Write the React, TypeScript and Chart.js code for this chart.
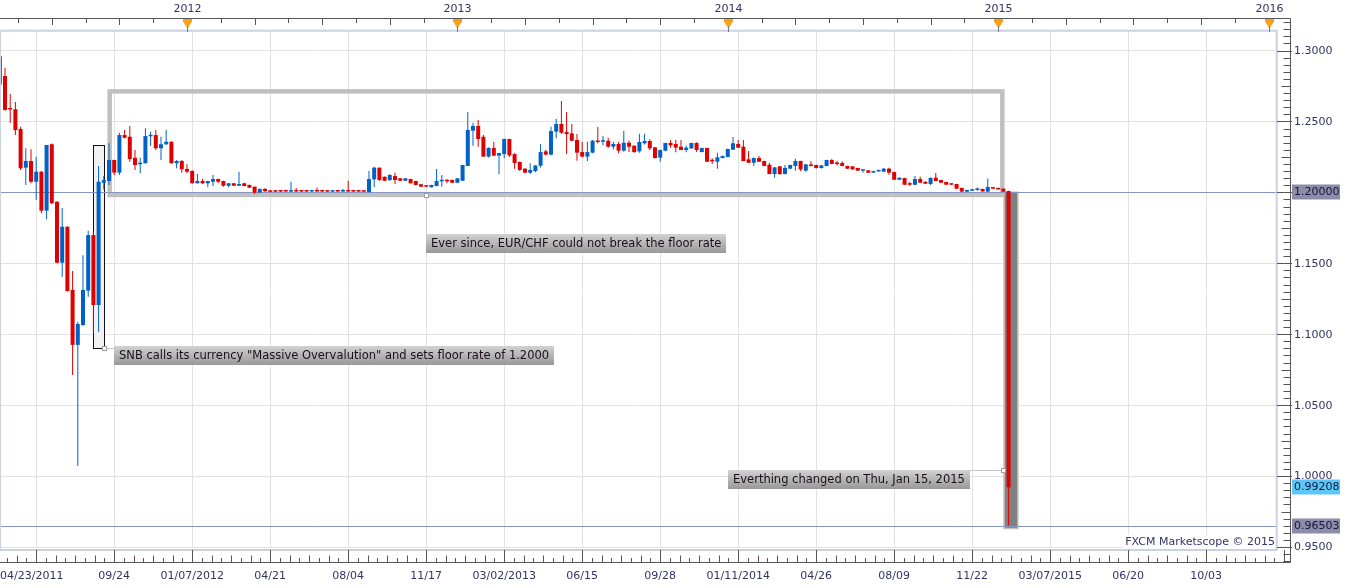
import React, { useEffect, useRef } from "react";
import { Chart, registerables } from "chart.js";

Chart.register(...registerables);

// ---------- DATA (weekly EUR/CHF candles, week index 0 = 04/23/2011) ----------
const OPEN = [
  1.2960, 1.2820, 1.2590, 1.2586, 1.2447, 1.2174, 1.2221, 1.2075, 1.2146, 1.1871,
  1.2339, 1.1934, 1.1504, 1.1758, 1.1312, 1.0925, 1.1065, 1.1307, 1.1699, 1.1206,
  1.2068, 1.2080, 1.2228, 1.2139, 1.2404, 1.2392, 1.2244, 1.2198, 1.2205, 1.2395,
  1.2404, 1.2311, 1.2339, 1.2357, 1.2205, 1.2221, 1.2165, 1.2151, 1.2064, 1.2080,
  1.2064, 1.2075, 1.2094, 1.2080, 1.2047, 1.2064, 1.2047, 1.2064, 1.2052, 1.2040,
  1.2000, 1.2024, 1.2012, 1.2010, 1.2010, 1.2010, 1.2005, 1.2011, 1.2011, 1.2011,
  1.2006, 1.2012, 1.2011, 1.2011, 1.2005, 1.2010, 1.2006, 1.2014, 1.2012, 1.2011,
  1.2010, 1.2001, 1.2092, 1.2174, 1.2110, 1.2087, 1.2115, 1.2099, 1.2082, 1.2094,
  1.2080, 1.2057, 1.2047, 1.2036, 1.2045, 1.2078, 1.2082, 1.2087, 1.2068, 1.2082,
  1.2186, 1.2435, 1.2468, 1.2392, 1.2252, 1.2313, 1.2259, 1.2270, 1.2376, 1.2270,
  1.2214, 1.2167, 1.2139, 1.2150, 1.2188, 1.2289, 1.2266, 1.2428, 1.2482, 1.2425,
  1.2416, 1.2369, 1.2284, 1.2252, 1.2280, 1.2364, 1.2357, 1.2364, 1.2322, 1.2341,
  1.2294, 1.2350, 1.2329, 1.2289, 1.2346, 1.2362, 1.2317, 1.2245, 1.2294, 1.2348,
  1.2341, 1.2322, 1.2299, 1.2310, 1.2348, 1.2284, 1.2313, 1.2221, 1.2216, 1.2242,
  1.2249, 1.2301, 1.2341, 1.2322, 1.2233, 1.2209, 1.2242, 1.2221, 1.2195, 1.2129,
  1.2183, 1.2129, 1.2167, 1.2186, 1.2221, 1.2153, 1.2190, 1.2193, 1.2172, 1.2186,
  1.2228, 1.2205, 1.2207, 1.2186, 1.2183, 1.2172, 1.2153, 1.2155, 1.2139, 1.2148,
  1.2146, 1.2167, 1.2143, 1.2089, 1.2101, 1.2057, 1.2054, 1.2094, 1.2075, 1.2059,
  1.2104, 1.2087, 1.2073, 1.2061, 1.2059, 1.2031, 1.2005, 1.2012, 1.2017, 1.2024,
  1.2005, 1.2035, 1.2031, 1.2026, 1.2010,
];
const HIGH = [
  1.2970, 1.2877, 1.2693, 1.2637, 1.2463, 1.2311, 1.2304, 1.2251, 1.2150, 1.2334,
  1.2344, 1.1936, 1.1890, 1.1760, 1.1446, 1.1088, 1.1556, 1.1730, 1.1723, 1.2186,
  1.2115, 1.2346, 1.2230, 1.2420, 1.2440, 1.2468, 1.2299, 1.2244, 1.2452, 1.2427,
  1.2440, 1.2392, 1.2440, 1.2360, 1.2228, 1.2228, 1.2198, 1.2155, 1.2130, 1.2096,
  1.2082, 1.2122, 1.2096, 1.2082, 1.2066, 1.2066, 1.2146, 1.2068, 1.2055, 1.2042,
  1.2028, 1.2030, 1.2016, 1.2014, 1.2012, 1.2012, 1.2075, 1.2030, 1.2014, 1.2013,
  1.2014, 1.2035, 1.2013, 1.2013, 1.2013, 1.2012, 1.2024, 1.2082, 1.2014, 1.2013,
  1.2012, 1.2151, 1.2180, 1.2176, 1.2112, 1.2130, 1.2138, 1.2101, 1.2101, 1.2096,
  1.2082, 1.2059, 1.2049, 1.2054, 1.2165, 1.2122, 1.2094, 1.2090, 1.2099, 1.2193,
  1.2566, 1.2491, 1.2510, 1.2404, 1.2318, 1.2355, 1.2280, 1.2380, 1.2378, 1.2275,
  1.2218, 1.2170, 1.2205, 1.2192, 1.2341, 1.2301, 1.2463, 1.2517, 1.2644, 1.2566,
  1.2482, 1.2411, 1.2357, 1.2357, 1.2369, 1.2461, 1.2397, 1.2385, 1.2357, 1.2355,
  1.2432, 1.2364, 1.2331, 1.2414, 1.2414, 1.2374, 1.2320, 1.2301, 1.2350, 1.2369,
  1.2369, 1.2369, 1.2331, 1.2350, 1.2353, 1.2315, 1.2315, 1.2240, 1.2280, 1.2259,
  1.2308, 1.2390, 1.2369, 1.2369, 1.2292, 1.2245, 1.2256, 1.2223, 1.2209, 1.2179,
  1.2186, 1.2193, 1.2195, 1.2237, 1.2223, 1.2200, 1.2219, 1.2195, 1.2193, 1.2230,
  1.2235, 1.2223, 1.2219, 1.2188, 1.2186, 1.2174, 1.2158, 1.2158, 1.2152, 1.2152,
  1.2172, 1.2174, 1.2145, 1.2106, 1.2103, 1.2075, 1.2115, 1.2110, 1.2077, 1.2106,
  1.2136, 1.2089, 1.2075, 1.2063, 1.2061, 1.2033, 1.2019, 1.2023, 1.2035, 1.2026,
  1.2097, 1.2037, 1.2033, 1.2028, 1.2012,
];
const LOW = [
  1.2740, 1.2575, 1.2491, 1.2404, 1.2157, 1.2052, 1.2064, 1.1946, 1.1852, 1.1810,
  1.1916, 1.1500, 1.1406, 1.1300, 1.0713, 1.0071, 1.1060, 1.1265, 1.1006, 1.1018,
  1.2021, 1.2052, 1.2122, 1.2122, 1.2381, 1.2216, 1.2158, 1.2134, 1.2205, 1.2327,
  1.2299, 1.2228, 1.2334, 1.2203, 1.2170, 1.2139, 1.2134, 1.2062, 1.2062, 1.2059,
  1.2036, 1.2045, 1.2064, 1.2040, 1.2036, 1.2045, 1.2045, 1.2043, 1.2031, 1.1988,
  1.1996, 1.2003, 1.2000, 1.2002, 1.2003, 1.2004, 1.2002, 1.2003, 1.2003, 1.2003,
  1.2003, 1.2004, 1.2003, 1.2002, 1.2003, 1.2003, 1.2003, 1.2004, 1.2003, 1.2002,
  1.2003, 1.2000, 1.2036, 1.2080, 1.2080, 1.2080, 1.2059, 1.2080, 1.2080, 1.2062,
  1.2050, 1.2038, 1.2038, 1.2034, 1.2043, 1.2040, 1.2064, 1.2066, 1.2066, 1.2080,
  1.2186, 1.2329, 1.2322, 1.2252, 1.2245, 1.2255, 1.2127, 1.2240, 1.2250, 1.2167,
  1.2150, 1.2135, 1.2130, 1.2142, 1.2176, 1.2262, 1.2259, 1.2381, 1.2411, 1.2270,
  1.2360, 1.2223, 1.2247, 1.2221, 1.2275, 1.2345, 1.2334, 1.2315, 1.2303, 1.2275,
  1.2287, 1.2284, 1.2280, 1.2280, 1.2338, 1.2298, 1.2238, 1.2216, 1.2290, 1.2315,
  1.2282, 1.2299, 1.2282, 1.2308, 1.2284, 1.2282, 1.2214, 1.2200, 1.2167, 1.2240,
  1.2247, 1.2299, 1.2313, 1.2219, 1.2207, 1.2186, 1.2214, 1.2184, 1.2127, 1.2103,
  1.2125, 1.2127, 1.2165, 1.2153, 1.2150, 1.2146, 1.2184, 1.2169, 1.2169, 1.2184,
  1.2198, 1.2190, 1.2184, 1.2165, 1.2160, 1.2150, 1.2139, 1.2137, 1.2137, 1.2146,
  1.2144, 1.2125, 1.2087, 1.2087, 1.2052, 1.2045, 1.2052, 1.2066, 1.2059, 1.2052,
  1.2078, 1.2066, 1.2052, 1.2052, 1.2024, 1.2003, 1.2003, 1.2010, 1.2012, 1.2005,
  1.2003, 1.2024, 1.2019, 1.2003, 0.96503,
];
const CLOSE = [
  1.2760, 1.2581, 1.2584, 1.2439, 1.2170, 1.2221, 1.2075, 1.2146, 1.1871, 1.2334,
  1.1923, 1.1504, 1.1758, 1.1305, 1.0925, 1.1072, 1.1312, 1.1699, 1.1206, 1.2075,
  1.2086, 1.2228, 1.2139, 1.2404, 1.2385, 1.2235, 1.2193, 1.2209, 1.2397, 1.2398,
  1.2311, 1.2339, 1.2357, 1.2205, 1.2221, 1.2163, 1.2146, 1.2064, 1.2080, 1.2064,
  1.2080, 1.2094, 1.2075, 1.2047, 1.2064, 1.2047, 1.2059, 1.2045, 1.2033, 1.1998,
  1.2024, 1.2008, 1.2004, 1.2005, 1.2006, 1.2006, 1.2010, 1.2006, 1.2006, 1.2006,
  1.2011, 1.2006, 1.2006, 1.2005, 1.2010, 1.2006, 1.2012, 1.2006, 1.2006, 1.2006,
  1.2005, 1.2094, 1.2174, 1.2087, 1.2082, 1.2122, 1.2087, 1.2082, 1.2099, 1.2064,
  1.2052, 1.2040, 1.2040, 1.2052, 1.2080, 1.2080, 1.2078, 1.2068, 1.2099, 1.2193,
  1.2440, 1.2468, 1.2376, 1.2252, 1.2313, 1.2259, 1.2277, 1.2376, 1.2261, 1.2207,
  1.2158, 1.2139, 1.2158, 1.2190, 1.2284, 1.2266, 1.2432, 1.2482, 1.2421, 1.2411,
  1.2364, 1.2280, 1.2252, 1.2284, 1.2364, 1.2355, 1.2364, 1.2322, 1.2341, 1.2294,
  1.2350, 1.2322, 1.2284, 1.2355, 1.2362, 1.2310, 1.2242, 1.2299, 1.2348, 1.2331,
  1.2315, 1.2299, 1.2315, 1.2348, 1.2299, 1.2313, 1.2216, 1.2219, 1.2247, 1.2256,
  1.2306, 1.2346, 1.2315, 1.2221, 1.2209, 1.2242, 1.2216, 1.2186, 1.2129, 1.2176,
  1.2129, 1.2172, 1.2193, 1.2221, 1.2162, 1.2197, 1.2186, 1.2172, 1.2190, 1.2228,
  1.2200, 1.2200, 1.2186, 1.2167, 1.2162, 1.2153, 1.2155, 1.2139, 1.2150, 1.2150,
  1.2167, 1.2139, 1.2089, 1.2103, 1.2054, 1.2054, 1.2094, 1.2068, 1.2061, 1.2101,
  1.2080, 1.2068, 1.2054, 1.2054, 1.2026, 1.2005, 1.2017, 1.2021, 1.2019, 1.2007,
  1.2038, 1.2026, 1.2021, 1.2005, 0.99208,
];

const GRID_WEEKS = [7, 22, 37, 52, 67, 82, 97, 112, 127, 142, 157, 172, 187, 202, 217, 232];
const BOTTOM_LABEL_WEEKS = [0, 22, 37, 52, 67, 82, 97, 112, 127, 142, 157, 172, 187, 202, 217, 232];
const BOTTOM_LABELS = [
  "04/23/2011", "09/24", "01/07/2012", "04/21", "08/04", "11/17", "03/02/2013", "06/15",
  "09/28", "01/11/2014", "04/26", "08/09", "11/22", "03/07/2015", "06/20", "10/03",
];
const YEAR_WEEKS = [36, 88, 140, 192, 244];
const YEAR_LABELS = ["2012", "2013", "2014", "2015", "2016"];
const Y_TICKS = [0.95, 1.0, 1.05, 1.1, 1.15, 1.2, 1.25, 1.3];
const FLOOR_RATE = 1.2;
const LAST_CLOSE = 0.99208;
const CRASH_LOW = 0.96503;

const NOTES = [
  { text: "SNB calls its currency \"Massive Overvalution\" and sets floor rate of 1.2000", week: 22.02, price: 1.0917, anchorWeek: 19.98, anchorPrice: 1.0905, link: "left" },
  { text: "Ever since, EUR/CHF could not break the floor rate", week: 81.96, price: 1.1706, anchorWeek: 81.96, anchorPrice: 1.1978, link: "up" },
  { text: "Everthing changed on Thu, Jan 15, 2015", week: 140.04, price: 1.00428, anchorWeek: 192.94, anchorPrice: 1.00428, link: "right" },
];
const RANGE_BOX = { from: 21.13, to: 192.8, top: 1.2712, bottom: 1.1982 };
const SNB_BOX = { from: 17.98, to: 19.98, top: 1.2334, bottom: 1.0905 };
const CRASH_BOX = { from: 192.98, to: 195.94, top: 1.2006, bottom: 0.96248 };

const X_MIN = 0.0385;
const X_MAX = 245.62;
const Y_MIN = 0.94789;
const Y_MAX = 1.31375;

const UP = "#0062c6";
const DOWN = "#e00000";
const AXIS_TEXT = "#333366";
const FONT_AXIS = '11px "DejaVu Sans"';
const FONT_NOTE = '11.5px "DejaVu Sans"';

const WEEKS = OPEN.map((_, i) => i);
const COLORS = WEEKS.map((i) => (CLOSE[i] >= OPEN[i] ? UP : DOWN));

function line(ctx: CanvasRenderingContext2D, x1: number, y1: number, x2: number, y2: number) {
  ctx.beginPath();
  ctx.moveTo(x1, y1);
  ctx.lineTo(x2, y2);
  ctx.stroke();
}

const decor = {
  id: "decor",
  beforeDatasetsDraw(chart: any) {
    const { ctx, chartArea: ca } = chart;
    const xs = chart.scales.x;
    const ys = chart.scales.y;
    const X = (v: number) => xs.getPixelForValue(v);
    const Y = (v: number) => ys.getPixelForValue(v);
    ctx.save();
    ctx.beginPath();
    ctx.rect(ca.left, ca.top, ca.right - ca.left, ca.bottom - ca.top);
    ctx.clip();

    // consolidation range box
    ctx.strokeStyle = "#c0c0c0";
    ctx.lineWidth = 4.5;
    ctx.strokeRect(X(RANGE_BOX.from), Y(RANGE_BOX.top), X(RANGE_BOX.to) - X(RANGE_BOX.from), Y(RANGE_BOX.bottom) - Y(RANGE_BOX.top));

    // SNB box
    const sx = Math.round(X(SNB_BOX.from)) + 0.5;
    const sx2 = Math.round(X(SNB_BOX.to)) + 0.5;
    const sy = Math.round(Y(SNB_BOX.top)) + 0.5;
    const sy2 = Math.round(Y(SNB_BOX.bottom)) + 0.5;
    ctx.fillStyle = "#f1f1f1";
    ctx.fillRect(sx, sy, sx2 - sx, sy2 - sy);
    ctx.strokeStyle = "#111";
    ctx.lineWidth = 1;
    ctx.strokeRect(sx, sy, sx2 - sx, sy2 - sy);

    // crash box
    const cx = X(CRASH_BOX.from);
    const cx2 = X(CRASH_BOX.to);
    const cy = Y(CRASH_BOX.top);
    const cy2 = Y(CRASH_BOX.bottom);
    ctx.fillStyle = "#c4c4c4";
    ctx.fillRect(cx, cy, cx2 - cx, cy2 - cy);
    ctx.fillStyle = "#808080";
    ctx.fillRect(cx + 1.5, cy + 1.5, cx2 - cx - 3, cy2 - cy - 3);

    // horizontal price lines
    ctx.strokeStyle = "#8794c4";
    ctx.lineWidth = 1;
    for (const p of [FLOOR_RATE, CRASH_LOW]) {
      const y = Math.round(Y(p)) + 0.5;
      line(ctx, ca.left, y, ca.right, y);
    }
    ctx.restore();
  },
  afterDraw(chart: any) {
    const { ctx, chartArea: ca } = chart;
    const xs = chart.scales.x;
    const ys = chart.scales.y;
    const X = (v: number) => xs.getPixelForValue(v);
    const Y = (v: number) => ys.getPixelForValue(v);
    const axTop = ca.top - 12.5;
    const axRight = ca.right + 13.5;
    const axBottom = ca.bottom + 12.5;
    ctx.save();

    // plot frame
    ctx.strokeStyle = "#c9d2de";
    ctx.lineWidth = 2;
    ctx.strokeRect(ca.left, ca.top - 0.3, ca.right - ca.left - 0.3, ca.bottom - ca.top + 0.3);

    // axes lines
    ctx.strokeStyle = "#555555";
    ctx.lineWidth = 1;
    line(ctx, 0, axTop, axRight, axTop);
    line(ctx, axRight, axTop, axRight, axBottom);
    line(ctx, 0, axBottom, axRight, axBottom);

    // top axis ticks (every 6.5 weeks, quarters longer)
    const step = 6.5;
    let m0 = Math.ceil((X_MIN - YEAR_WEEKS[0]) / step);
    for (let m = m0; ; m++) {
      const w = YEAR_WEEKS[0] + m * step;
      const x = Math.round(X(w)) + 0.5;
      if (x > axRight) break;
      const long = ((m % 2) + 2) % 2 === 0;
      line(ctx, x, axTop, x, axTop + (long ? 6.5 : 4.5));
    }
    // year markers
    ctx.font = FONT_AXIS;
    ctx.fillStyle = AXIS_TEXT;
    ctx.textAlign = "center";
    ctx.textBaseline = "middle";
    YEAR_WEEKS.forEach((w, i) => {
      const x = Math.round(X(w)) + 0.5;
      ctx.fillStyle = AXIS_TEXT;
      ctx.fillText(YEAR_LABELS[i], x, axTop - 9);
      ctx.fillStyle = "#f8a11c";
      ctx.beginPath();
      ctx.moveTo(x - 4.5, axTop + 0.5);
      ctx.lineTo(x + 4.5, axTop + 0.5);
      ctx.lineTo(x + 4.5, axTop + 3);
      ctx.lineTo(x + 0.7, axTop + 9);
      ctx.lineTo(x - 0.7, axTop + 9);
      ctx.lineTo(x - 4.5, axTop + 3);
      ctx.closePath();
      ctx.fill();
      ctx.strokeStyle = "#6d7a90";
      line(ctx, x, axTop + 8, x, ca.top + 1);
    });

    // right axis ticks
    ctx.strokeStyle = "#555555";
    for (let i = 186; i <= 266; i++) {
      const v = i * 0.005;
      const y = Math.round(Y(v)) + 0.5;
      if (y < axTop || y > axBottom) continue;
      if (i % 10 === 0) line(ctx, ca.right, y, axRight + 1.5, y);
      else if (i % 5 === 0) line(ctx, axRight - 9, y, axRight, y);
      else line(ctx, axRight - 7, y, axRight, y);
    }
    ctx.fillStyle = AXIS_TEXT;
    ctx.textAlign = "left";
    ctx.font = FONT_AXIS;
    Y_TICKS.forEach((v) => {
      ctx.fillText(v.toFixed(4), axRight + 3.5, Y(v) + 0.5);
    });

    // bottom axis ticks
    const sub = 15 / 8;
    for (let j = -8; ; j++) {
      const w = GRID_WEEKS[0] + j * sub;
      const x = Math.round(X(w)) + 0.5;
      if (x > axRight) break;
      if (x < 0) continue;
      const k = ((j % 8) + 8) % 8;
      if (k === 0) line(ctx, x, ca.bottom, x, axBottom);
      else line(ctx, x, axBottom - (k % 2 === 0 ? 7 : 4.5), x, axBottom);
    }
    ctx.fillStyle = AXIS_TEXT;
    BOTTOM_LABEL_WEEKS.forEach((w, i) => {
      const x = X(w);
      const t = BOTTOM_LABELS[i];
      const tw = ctx.measureText(t).width;
      if (x - tw / 2 < 0) {
        ctx.textAlign = "left";
        ctx.fillText(t, 0, axBottom + 14);
      } else {
        ctx.textAlign = "center";
        ctx.fillText(t, x, axBottom + 14);
      }
    });

    // notes
    ctx.font = FONT_NOTE;
    NOTES.forEach((n) => {
      const bx = Math.round(X(n.week));
      const by = Math.round(Y(n.price));
      const tw = ctx.measureText(n.text).width;
      const bw = Math.round(tw + 10);
      const bh = 19;
      const ax = Math.round(X(n.anchorWeek)) + 0.5;
      const ay = Math.round(Y(n.anchorPrice)) + 0.5;
      ctx.strokeStyle = "#c8c8c8";
      ctx.lineWidth = 1;
      if (n.link === "left") line(ctx, ax, ay, bx, ay);
      else if (n.link === "up") line(ctx, ax, ay, ax, by);
      else line(ctx, bx + bw, by + 0.5, ax, ay);
      const g = ctx.createLinearGradient(0, by, 0, by + bh);
      g.addColorStop(0, "#d2d2d2");
      g.addColorStop(1, "#989898");
      ctx.fillStyle = g;
      ctx.fillRect(bx, by, bw, bh);
      ctx.fillStyle = "#1a101a";
      ctx.textAlign = "left";
      ctx.textBaseline = "middle";
      ctx.fillText(n.text, bx + 5, by + bh / 2 + 0.5);
      ctx.fillStyle = "#ffffff";
      ctx.strokeStyle = "#a0a0a0";
      ctx.fillRect(ax - 2, ay - 2, 4, 4);
      ctx.strokeRect(ax - 2, ay - 2, 4, 4);
    });

    // price boxes on right axis
    ctx.font = FONT_AXIS;
    ctx.textAlign = "left";
    const boxes = [
      { v: FLOOR_RATE, bg: "#8c8ca8", fg: "#15153f" },
      { v: LAST_CLOSE, bg: "#5cc6f7", fg: "#0d1a3a" },
      { v: CRASH_LOW, bg: "#8c8ca8", fg: "#15153f" },
    ];
    boxes.forEach((b) => {
      const y = Math.round(Y(b.v));
      ctx.fillStyle = b.bg;
      ctx.fillRect(axRight + 1.5, y - 7.5, 48, 15);
      ctx.fillStyle = b.fg;
      ctx.fillText(b.v.toFixed(5), axRight + 3.5, y + 0.5);
    });

    // copyright
    ctx.font = FONT_AXIS;
    const cr = "FXCM Marketscope \u00A9 2015";
    const cw = ctx.measureText(cr).width;
    ctx.fillStyle = "#ffffff";
    ctx.fillRect(ca.right - cw - 4, ca.bottom - 15, cw + 2, 13);
    ctx.fillStyle = AXIS_TEXT;
    ctx.textAlign = "right";
    ctx.fillText(cr, ca.right - 2, ca.bottom - 7.5);
    ctx.restore();
  },
};

export default function App() {
  const ref = useRef<HTMLCanvasElement>(null);
  useEffect(() => {
    document.body.style.margin = "0";
    const canvas = ref.current;
    if (!canvas) return;
    const chart = new Chart(canvas, {
      type: "bar",
      data: {
        datasets: [
          {
            label: "body",
            data: WEEKS.map((i) => ({ x: i, y: [OPEN[i], CLOSE[i]] })) as any,
            backgroundColor: COLORS,
            borderWidth: 0,
            grouped: false,
            barThickness: 4,
            maxBarThickness: 4,
            minBarLength: 1.5,
            inflateAmount: 0,
          } as any,
          {
            label: "wick",
            data: WEEKS.map((i) => ({ x: i, y: [LOW[i], HIGH[i]] })) as any,
            backgroundColor: COLORS,
            borderWidth: 0,
            grouped: false,
            barThickness: 1,
            maxBarThickness: 1,
            inflateAmount: 0,
          } as any,
        ],
      },
      options: {
        responsive: false,
        devicePixelRatio: 1,
        animation: false,
        events: [],
        layout: { padding: { top: 31, left: 0, right: 0, bottom: 0 } },
        plugins: { legend: { display: false }, tooltip: { enabled: false } },
        scales: {
          x: {
            type: "linear",
            min: X_MIN,
            max: X_MAX,
            offset: false,
            position: "bottom",
            grid: { color: "#e2e2e2", offset: false, drawTicks: false },
            border: { display: false },
            ticks: { display: false },
            afterBuildTicks: (s: any) => {
              s.ticks = GRID_WEEKS.map((v) => ({ value: v }));
            },
            afterFit: (s: any) => {
              s.height = 38;
            },
          } as any,
          y: {
            type: "linear",
            position: "right",
            min: Y_MIN,
            max: Y_MAX,
            beginAtZero: false,
            grid: { color: "#e2e2e2", drawTicks: false },
            border: { display: false },
            ticks: { display: false },
            afterBuildTicks: (s: any) => {
              s.ticks = Y_TICKS.map((v) => ({ value: v }));
            },
            afterFit: (s: any) => {
              s.width = 72;
            },
          } as any,
        },
      },
      plugins: [decor],
    });
    return () => chart.destroy();
  }, []);
  return (
    <canvas
      ref={ref}
      width={1349}
      height={588}
      style={{ display: "block", width: 1349, height: 588 }}
    />
  );
}
